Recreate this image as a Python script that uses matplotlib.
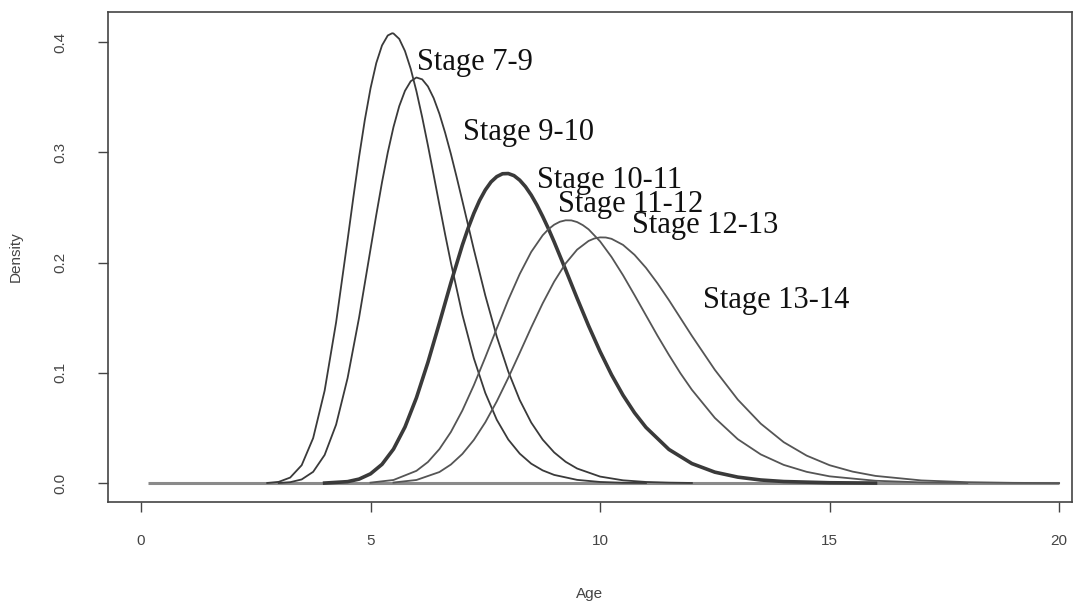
import numpy as np
import matplotlib.pyplot as plt

# density curves (age, density)
age_a = [2.75, 3.0, 3.25, 3.5, 3.75, 4.0, 4.25, 4.5, 4.625, 4.75, 4.875, 5.0, 5.125, 5.25, 5.375, 5.47,
         5.5, 5.625, 5.75, 5.875, 6.0, 6.125, 6.25, 6.375, 6.5, 6.625, 6.75, 7.0, 7.25, 7.5, 7.75, 8.0,
         8.25, 8.5, 8.75, 9.0, 9.5, 10.0, 10.5, 11.0]
dens_a = [0.0002, 0.0012, 0.0051, 0.0163, 0.0409, 0.0839, 0.1459, 0.2206, 0.2590, 0.2958, 0.3293, 0.3581,
          0.3810, 0.3970, 0.4060, 0.4080, 0.4078, 0.4029, 0.3919, 0.3758, 0.3554, 0.3319, 0.3063, 0.2795,
          0.2524, 0.2256, 0.2000, 0.1529, 0.1133, 0.0818, 0.0575, 0.0396, 0.0268, 0.0177, 0.0116, 0.0075,
          0.0030, 0.0011, 0.0004, 0.0002]

age_b = [3.0, 3.25, 3.5, 3.75, 4.0, 4.25, 4.5, 4.75, 5.0, 5.125, 5.25, 5.375, 5.5, 5.625, 5.75, 5.875,
         6.0, 6.125, 6.25, 6.375, 6.5, 6.625, 6.75, 6.875, 7.0, 7.25, 7.5, 7.75, 8.0, 8.25, 8.5, 8.75,
         9.0, 9.25, 9.5, 10.0, 10.5, 11.0, 11.5, 12.0]
dens_b = [0.0002, 0.0009, 0.0034, 0.0103, 0.0256, 0.0531, 0.0953, 0.1501, 0.2123, 0.2433, 0.2729, 0.2998,
          0.3230, 0.3419, 0.3558, 0.3645, 0.3679, 0.3662, 0.3598, 0.3492, 0.3350, 0.3178, 0.2986, 0.2777,
          0.2560, 0.2120, 0.1702, 0.1329, 0.1013, 0.0754, 0.0550, 0.0395, 0.0279, 0.0194, 0.0133, 0.0060,
          0.0026, 0.0011, 0.0005, 0.0002]

age_c = [4.0, 4.5, 4.75, 5.0, 5.25, 5.5, 5.75, 6.0, 6.25, 6.5, 6.75, 7.0, 7.125, 7.25, 7.375, 7.5, 7.625,
         7.75, 7.875, 8.0, 8.125, 8.25, 8.375, 8.5, 8.625, 8.75, 8.875, 9.0, 9.25, 9.5, 9.75, 10.0, 10.25,
         10.5, 10.75, 11.0, 11.5, 12.0, 12.5, 13.0, 13.5, 14.0, 15.0, 16.0]
dens_c = [0.0001, 0.0014, 0.0037, 0.0085, 0.0171, 0.0309, 0.0509, 0.0775, 0.1096, 0.1452, 0.1817, 0.2159,
          0.2311, 0.2447, 0.2564, 0.2659, 0.2732, 0.2780, 0.2806, 0.2808, 0.2789, 0.2748, 0.2689, 0.2613,
          0.2522, 0.2419, 0.2308, 0.2188, 0.1935, 0.1677, 0.1427, 0.1194, 0.0983, 0.0798, 0.0639, 0.0506,
          0.0306, 0.0178, 0.0100, 0.0055, 0.0029, 0.0015, 0.0004, 0.0001]

age_e = [5.0, 5.5, 6.0, 6.25, 6.5, 6.75, 7.0, 7.25, 7.5, 7.75, 8.0, 8.25, 8.5, 8.75, 8.875, 9.0, 9.125,
         9.25, 9.375, 9.5, 9.625, 9.75, 10.0, 10.25, 10.5, 10.75, 11.0, 11.25, 11.5, 11.75, 12.0, 12.5,
         13.0, 13.5, 14.0, 14.5, 15.0, 16.0, 17.0, 18.0]
dens_e = [0.0005, 0.0029, 0.0112, 0.0192, 0.0309, 0.0464, 0.0659, 0.0888, 0.1141, 0.1404, 0.1662, 0.1897,
          0.2097, 0.2248, 0.2303, 0.2344, 0.2371, 0.2384, 0.2383, 0.2368, 0.2340, 0.2302, 0.2193, 0.2051,
          0.1886, 0.1706, 0.1522, 0.1338, 0.1163, 0.0997, 0.0847, 0.0592, 0.0399, 0.0261, 0.0166, 0.0103,
          0.0062, 0.0022, 0.0007, 0.0002]

age_f = [5.5, 6.0, 6.5, 6.75, 7.0, 7.25, 7.5, 7.75, 8.0, 8.25, 8.5, 8.75, 9.0, 9.25, 9.5, 9.75, 9.875,
         10.0, 10.125, 10.25, 10.5, 10.75, 11.0, 11.25, 11.5, 11.75, 12.0, 12.5, 13.0, 13.5, 14.0, 14.5,
         15.0, 15.5, 16.0, 17.0, 18.0, 19.0, 20.0]
dens_f = [0.0006, 0.0029, 0.0101, 0.0169, 0.0265, 0.0392, 0.0552, 0.0742, 0.0955, 0.1182, 0.1412, 0.1631,
          0.1828, 0.1993, 0.2118, 0.2197, 0.2219, 0.2229, 0.2228, 0.2216, 0.2161, 0.2071, 0.1953, 0.1813,
          0.1660, 0.1498, 0.1336, 0.1028, 0.0758, 0.0540, 0.0372, 0.0250, 0.0163, 0.0105, 0.0066, 0.0025,
          0.0009, 0.0003, 0.0001]

base_age = [0.15, 20.0]
base_dens = [0.0, 0.0]

stage_labels = ['Stage 7-9', 'Stage 9-10', 'Stage 10-11', 'Stage 11-12', 'Stage 12-13', 'Stage 13-14']
label_x = [6.01, 7.02, 8.63, 9.09, 10.70, 12.24]
label_y = [0.3746, 0.3111, 0.2676, 0.2458, 0.2268, 0.1587]

fig = plt.figure(figsize=(10.85, 6.05), dpi=100)
ax = fig.add_axes([0.0995, 0.170, 0.8885, 0.810])

ax.plot(base_age, base_dens, color='#8a8a8a', lw=2.2, solid_capstyle='butt')
ax.plot(age_a, dens_a, color='#3a3a3a', lw=1.3)
ax.plot(age_b, dens_b, color='#3a3a3a', lw=1.3)
ax.plot(age_c, dens_c, color='#3a3a3a', lw=2.6)
ax.plot(age_e, dens_e, color='#555555', lw=1.3)
ax.plot(age_f, dens_f, color='#555555', lw=1.3)

for t, x, y in zip(stage_labels, label_x, label_y):
    ax.text(x, y, t, family='Liberation Serif', fontsize=22, color='#111111',
            ha='left', va='baseline')

ax.set_xlim(-0.72, 20.28)
ax.set_ylim(-0.0172, 0.4272)
ax.set_xticks([0, 5, 10, 15, 20])
ax.set_yticks([0.0, 0.1, 0.2, 0.3, 0.4])
ax.set_yticklabels(['0.0', '0.1', '0.2', '0.3', '0.4'], rotation=90, va='center')
ax.tick_params(direction='out', length=7, width=1, color='#444444', labelcolor='#444444',
               labelsize=11)
ax.tick_params(axis='x', pad=16)
ax.tick_params(axis='y', pad=22)
for lab in ax.get_xticklabels() + ax.get_yticklabels():
    lab.set_family('Liberation Sans')
for sp in ax.spines.values():
    sp.set_color('#444444')
    sp.set_linewidth(1.2)

ax.set_xlabel('Age', family='Liberation Sans', fontsize=11, color='#444444', labelpad=28)
ax.set_ylabel('Density', family='Liberation Sans', fontsize=11, color='#444444', labelpad=22)

fig.savefig('out.png', dpi=100)
